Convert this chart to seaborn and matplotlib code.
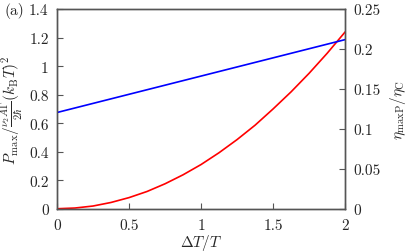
import numpy as np
import pandas as pd
import seaborn as sns
import matplotlib.pyplot as plt
import matplotlib.ticker as ticker

# values
dT = [0, 0.125, 0.25, 0.375, 0.5, 0.625, 0.75, 0.875, 1.0,
      1.125, 1.25, 1.375, 1.5, 1.625, 1.75, 1.875, 2.0]
p_max = [0, 0.005, 0.019, 0.044, 0.078, 0.121, 0.175, 0.238, 0.31,
         0.393, 0.485, 0.586, 0.70, 0.82, 0.95, 1.09, 1.24]
eta_dT = [0, 2.0]
eta = [0.1205, 0.2118]

sns.set_style("white")
plt.rcParams["font.family"] = "serif"
plt.rcParams["font.serif"] = ["cmr10", "DejaVu Serif"]
plt.rcParams["mathtext.fontset"] = "cm"
plt.rcParams["axes.unicode_minus"] = False
plt.rcParams["font.size"] = 11

fig = plt.figure(figsize=(4.07, 2.53), dpi=100)
ax = fig.add_axes([0.140, 0.171, 0.708, 0.789])
ax2 = ax.twinx()

sns.lineplot(x=dT, y=p_max, color="red", lw=1.2, ax=ax)
sns.lineplot(x=eta_dT, y=eta, color="blue", lw=1.2, ax=ax2)

ax.set_xlim(0, 2)
ax.set_ylim(0, 1.4)
ax2.set_ylim(0, 0.25)
ax.set_xticks([0, 0.5, 1, 1.5, 2])
ax.set_yticks(np.arange(0, 1.41, 0.2))
ax2.set_yticks([0, 0.05, 0.1, 0.15, 0.2, 0.25])
fmt = ticker.FuncFormatter(lambda v, p: f"{v:g}")
ax.xaxis.set_major_formatter(fmt)
ax.yaxis.set_major_formatter(fmt)
ax2.yaxis.set_major_formatter(fmt)

for a in (ax, ax2):
    for s in a.spines.values():
        s.set_color("#555555")
        s.set_linewidth(1.0)
ax.tick_params(axis="x", direction="in", length=4, width=0.8, color="#555555", pad=7, bottom=True, top=False)
ax.tick_params(axis="y", direction="in", length=4, width=0.8, color="#555555", pad=6, left=True, right=False)
ax2.tick_params(axis="y", direction="in", length=4, width=0.8, color="#555555", pad=6, right=True, left=False)

ax.set_xlabel(r"$\Delta T/T$", labelpad=0)
ax.set_ylabel(r"$P_{\max}/\frac{\nu_2 A\Gamma}{2\hbar}(k_{\rm B}T)^2$", labelpad=2)
ax2.set_ylabel(r"$\eta_{\rm maxP}/\eta_{\rm C}$", labelpad=5)
fig.text(0.012, 0.955, "(a)", ha="left", va="center", fontsize=11)

plt.savefig("out.png", dpi=100)
